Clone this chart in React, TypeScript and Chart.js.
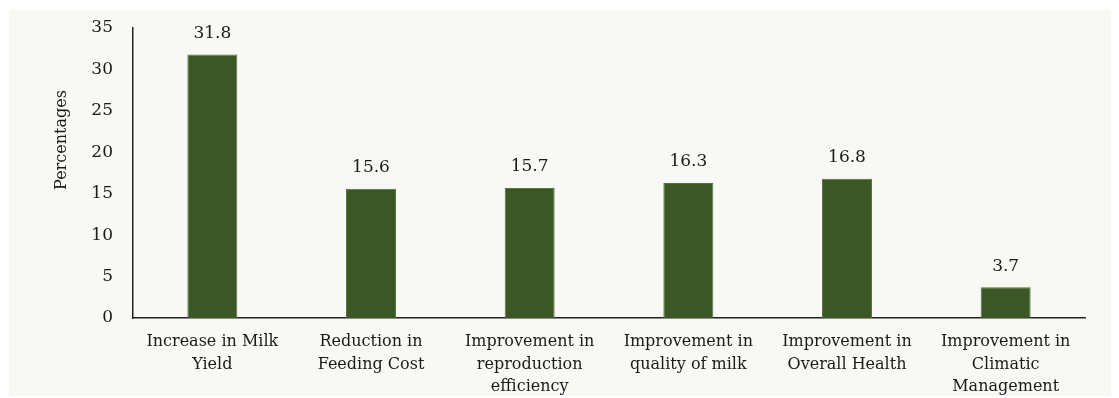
import React, { useEffect, useRef } from "react";
import { Chart, registerables } from "chart.js";

Chart.register(...registerables);

const categories: string[][] = [
  ["Increase in Milk", "Yield"],
  ["Reduction in", "Feeding Cost"],
  ["Improvement in", "reproduction", "efficiency"],
  ["Improvement in", "quality of milk"],
  ["Improvement in", "Overall Health"],
  ["Improvement in", "Climatic", "Management"],
];
const values: number[] = [31.8, 15.6, 15.7, 16.3, 16.8, 3.7];
const yTicks: number[] = [0, 5, 10, 15, 20, 25, 30, 35];
const yTitle = "Percentages";

const FONT = "'DejaVu Serif', Georgia, serif";
const TEXT = "#1a1a1a";

const valueLabels = {
  id: "valueLabels",
  afterDatasetsDraw(chart: any) {
    const ctx = chart.ctx;
    const meta = chart.getDatasetMeta(0);
    ctx.save();
    ctx.font = `17px ${FONT}`;
    ctx.fillStyle = TEXT;
    ctx.textAlign = "center";
    ctx.textBaseline = "middle";
    meta.data.forEach((el: any, i: number) => {
      ctx.fillText(values[i].toFixed(1), el.x, el.y - 21);
    });
    // y-axis title
    ctx.font = `16px ${FONT}`;
    ctx.translate(53, 130);
    ctx.rotate(-Math.PI / 2);
    ctx.fillText(yTitle, 0, 0);
    ctx.restore();
  },
};

export default function App() {
  const ref = useRef<HTMLCanvasElement>(null);
  useEffect(() => {
    if (!ref.current) return;
    const chart = new Chart(ref.current, {
      type: "bar",
      data: {
        labels: categories,
        datasets: [
          {
            data: values,
            backgroundColor: "#3b5725",
            borderColor: "#55733f",
            borderWidth: 1,
            barPercentage: 0.315,
            categoryPercentage: 1,
          },
        ],
      },
      options: {
        animation: false,
        responsive: false,
        maintainAspectRatio: false,
        layout: { padding: { left: 60, right: 34, top: 18, bottom: 0 } },
        plugins: {
          legend: { display: false },
          tooltip: { enabled: false },
        },
        scales: {
          x: {
            grid: { display: false, drawTicks: false },
            border: { display: true, color: "#222", width: 1.5 },
            ticks: {
              color: TEXT,
              font: { family: FONT, size: 16, lineHeight: 1.4 },
              padding: 13,
              maxRotation: 0,
              autoSkip: false,
            },
            afterFit: (s: any) => {
              s.height = 80;
              s.paddingLeft = 0;
              s.paddingRight = 0;
            },
          },
          y: {
            min: 0,
            max: 35,
            afterBuildTicks: (s: any) => {
              s.ticks = yTicks.map((v) => ({ value: v }));
            },
            grid: { display: false, drawTicks: false },
            border: { display: true, color: "#222", width: 1.5 },
            ticks: {
              color: TEXT,
              font: { family: FONT, size: 17 },
              padding: 20,
            },
            afterFit: (s: any) => {
              s.width = 64;
              s.paddingTop = 0;
              s.paddingBottom = 0;
            },
          },
        },
      },
      plugins: [valueLabels],
    });
    return () => chart.destroy();
  }, []);
  return (
    <div
      style={{
        position: "relative",
        top: 2,
        left: 1,
        width: 1110,
        height: 388,
        background: "#f8f9f4",
      }}
    >
      <canvas ref={ref} width={1110} height={388} style={{ display: "block" }} />
    </div>
  );
}
